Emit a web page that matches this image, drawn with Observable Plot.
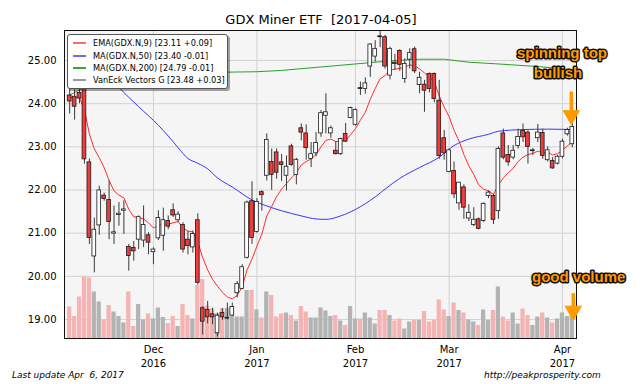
<!DOCTYPE html>
<html><head><meta charset="utf-8">
<script src="https://cdn.jsdelivr.net/npm/d3@7"></script>
<script src="https://cdn.jsdelivr.net/npm/@observablehq/plot@0.6"></script>
<style>
html,body{margin:0;padding:0;background:#fff;}
#wrap{position:relative;width:640px;height:384px;overflow:hidden;font-family:"DejaVu Sans",sans-serif;color:#000;}
#chart{position:absolute;left:0;top:0;}
#title{position:absolute;left:0;top:12px;width:642px;text-align:center;font-size:13px;white-space:pre;line-height:16px;}
#legend{position:absolute;left:67px;top:34px;width:159px;height:53px;background:#fff;border:1px solid #555;border-radius:3px;box-shadow:2px 2px 0 rgba(0,0,0,0.35);}
.lrow{position:absolute;left:0;height:12px;font-size:8.2px;line-height:12px;white-space:pre;}
.lsw{position:absolute;left:5px;top:5px;width:13px;height:2px;}
.ltx{position:absolute;left:25px;top:0;}
#footL{position:absolute;left:12px;top:370px;font-size:9px;font-style:italic;white-space:pre;}
#footR{position:absolute;left:484px;top:370px;font-size:9px;font-style:italic;white-space:pre;}
</style></head><body>
<div id="wrap">
  <div id="chart"></div>
  <div id="title"></div>
  <div id="legend"></div>
  <div id="footL"></div>
  <div id="footR"></div>
</div>
<script>
// ---------- data (trading-day index 0 = 2016-11-07 ... 102 = 2017-04-05) ----------
const opens = [24.19,24.16,24.25,24.38,22.64,20.46,21.18,21.87,21.77,20.99,
 21.42,21.52,20.68,20.66,20.85,20.83,20.95,20.56,20.88,20.94,
 21.28,21.53,21.30,21.19,20.85,20.67,21.30,19.26,19.22,19.12,
 18.68,19.15,19.02,19.09,19.61,19.71,20.43,21.74,21.03,21.95,
 22.33,22.65,22.87,22.64,22.33,23.01,22.35,23.43,23.31,22.72,
 22.85,23.31,23.72,23.31,22.91,22.83,23.30,23.67,23.51,24.36,
 24.34,24.86,25.09,25.56,25.54,24.65,24.95,25.22,24.57,25.02,
 25.26,24.43,24.44,24.69,24.69,24.07,23.20,22.42,22.44,21.69,
 22.06,21.34,21.19,21.32,21.28,21.86,21.86,21.51,23.31,22.81,
 22.75,23.02,23.37,23.33,22.90,23.20,23.32,22.69,22.67,22.61,
 22.77,23.29,23.06];
const highs = [24.40,24.32,24.45,24.46,22.72,21.35,22.09,21.93,22.21,21.63,
 21.71,21.75,20.74,20.81,21.40,21.63,21.01,20.66,21.52,21.58,
 21.40,21.68,21.50,21.24,21.04,21.05,21.45,19.30,19.42,19.26,
 19.15,19.25,19.38,19.38,19.88,20.27,21.74,22.19,21.80,21.98,
 23.30,22.95,22.95,22.82,22.79,23.06,22.73,23.53,23.51,23.10,
 23.33,23.84,24.23,23.48,23.12,23.20,23.54,23.92,23.88,24.50,
 24.60,25.39,25.46,25.68,25.58,25.31,25.14,25.25,25.04,25.27,
 25.31,24.73,24.54,24.71,24.71,24.54,23.38,22.95,22.65,22.17,
 22.12,21.66,21.59,21.35,21.70,21.98,21.90,23.00,23.41,23.03,
 23.03,23.41,23.53,23.37,22.96,23.52,23.41,23.00,22.75,22.80,
 23.18,23.43,23.62];
const lows = [23.76,23.62,24.00,22.60,20.74,20.08,20.95,21.74,20.85,20.74,
 21.16,20.97,20.12,20.35,20.62,20.67,20.50,20.27,20.83,20.58,
 21.08,21.36,21.24,20.54,20.50,20.54,19.80,18.64,18.90,18.88,
 18.60,18.98,18.99,19.07,19.50,19.69,20.40,20.74,21.00,21.51,
 22.21,21.99,22.25,22.20,21.98,22.55,22.12,23.14,22.69,22.52,
 22.77,23.22,23.30,23.20,22.81,22.80,23.10,23.65,23.48,24.19,
 24.22,24.61,24.96,25.30,24.80,24.55,24.77,24.75,24.47,24.80,
 24.70,24.23,23.80,24.25,24.02,22.71,22.69,22.40,21.80,21.53,
 21.32,21.27,21.15,21.08,21.25,21.80,21.20,21.32,22.70,22.55,
 22.70,22.95,23.10,22.60,22.80,23.10,22.71,22.65,22.48,22.58,
 22.72,23.25,22.98];
const closes = [24.05,23.93,24.12,22.71,20.89,21.08,21.99,21.79,21.26,21.02,
 21.45,21.55,20.47,20.58,21.37,21.19,20.78,20.62,21.35,21.30,
 21.15,21.41,21.43,20.62,20.70,20.98,19.85,18.95,19.05,19.05,
 19.09,19.05,19.04,19.29,19.82,20.21,21.71,20.89,21.72,21.88,
 23.16,22.35,22.40,22.58,22.54,22.58,22.70,23.33,22.97,22.83,
 23.09,23.78,23.80,23.43,22.83,23.18,23.12,23.90,23.85,24.34,
 24.47,25.37,25.27,25.54,24.86,25.27,24.92,24.90,24.92,25.17,
 24.75,24.60,24.30,24.34,24.11,22.79,22.85,22.92,21.90,22.17,
 21.59,21.47,21.31,21.10,21.68,21.94,21.31,22.95,22.75,22.64,
 22.91,23.23,23.22,23.00,22.92,23.33,22.79,22.92,22.50,22.77,
 23.12,23.39,23.46];
// volume, millions of shares
const volumes = [63,44,83,123,121,93,73,37,66,53,
 44,31,93,24,68,37,49,39,61,42,
 30,44,24,68,46,39,106,118,65,59,
 49,60,60,54,43,43,96,96,57,41,
 93,86,43,49,51,46,35,64,53,41,
 41,61,55,44,46,35,26,64,39,39,
 51,41,29,56,56,46,35,39,19,33,
 36,36,54,33,36,77,57,44,71,56,
 51,37,33,26,57,36,56,103,43,35,
 51,29,59,46,26,43,51,41,31,39,
 51,44,64];
const ema9 = [24.15,24.13,24.14,23.85,23.30,22.95,22.75,22.52,22.22,21.98,
 21.88,21.82,21.55,21.38,21.36,21.33,21.24,21.12,21.18,21.21,
 21.21,21.24,21.27,21.12,21.05,21.03,20.80,20.43,20.15,19.93,
 19.77,19.63,19.52,19.48,19.56,19.75,20.15,20.40,20.70,20.98,
 21.40,21.62,21.85,22.02,22.15,22.28,22.40,22.58,22.66,22.72,
 22.82,23.00,23.15,23.18,23.12,23.14,23.14,23.28,23.42,23.62,
 23.80,24.10,24.35,24.58,24.65,24.78,24.80,24.82,24.84,24.90,
 24.87,24.81,24.71,24.62,24.50,24.18,23.92,23.70,23.38,23.14,
 22.82,22.56,22.36,22.12,22.02,21.98,21.90,22.12,22.28,22.40,
 22.50,22.66,22.76,22.82,22.85,22.90,22.86,22.88,22.81,22.84,
 22.92,23.02,23.11];
const ma50Idx = [8,10,14,18,20,22,24,26,28,30,33,37,40,43,47,50,52,55,58,62,64,67,71,75,78,81,85,87,92,97,102];
const ma50Val = [24.65,24.38,23.93,23.50,23.25,22.98,22.73,22.62,22.49,22.28,22.07,21.77,21.63,21.52,21.40,21.33,21.32,21.40,21.55,21.84,22.02,22.27,22.52,22.76,23.03,23.18,23.29,23.36,23.40,23.41,23.40];
const ma200Idx = [0,1,2,3,5,32,38,43,47,53,58,65,71,76,81,87,95,102];
const ma200Val = [24.20,24.26,24.32,24.38,24.50,24.73,24.74,24.77,24.81,24.87,24.92,24.99,25.03,25.03,24.96,24.92,24.86,24.79];

const monthTickIdx = [17,38,58,77,100];
const monthTickLabels = ["Dec\n2016","Jan\n2017","Feb\n2017","Mar\n2017","Apr\n2017"];
const priceTicks = [19,20,21,22,23,24,25];

const legendNames = ["EMA(GDX.N,9) [23.11 +0.09]","MA(GDX.N,50) [23.40 -0.01]","MA(GDX.N,200) [24.79 -0.01]","VanEck Vectors G [23.48 +0.03]"];
const legendColors = ["#ff6b6b","#6b6bff","#3aa53a","#9a9a9a"];

const noteTexts = ["spinning top","bullish","good volume"];
const noteIdx = [99.9,99.1,103.3];
const notePrice = [25.17,24.71,19.99];
const arrowIdx = [101.8,102.2];
const arrowFrom = [24.27,19.60];
const arrowTo = [23.80,19.27];

// ---------- build ----------
const yMin = 18.56, yMax = 25.695;
const volPerPriceUnit = 86.3;
const days = opens.map((o,i)=>({i, open:o, high:highs[i], low:lows[i], close:closes[i], vol:volumes[i], up: closes[i] >= o}));
const emaData = ema9.map((v,i)=>({i, v}));
const ma50 = ma50Idx.map((i,k)=>({i, v:ma50Val[k]}));
const ma200 = ma200Idx.map((i,k)=>({i, v:ma200Val[k]}));
const notes = noteTexts.map((t,k)=>({t, i:noteIdx[k], v:notePrice[k]}));
const arrows = arrowIdx.map((i,k)=>({i, from:arrowFrom[k], to:arrowTo[k]}));
const tickLabel = new Map(monthTickIdx.map((d,k)=>[d, monthTickLabels[k]]));
const orange = "#ff9a00";

const chart = Plot.plot({
  width: 640, height: 384,
  marginTop: 30, marginBottom: 46, marginLeft: 64, marginRight: 64,
  style: {fontFamily: "DejaVu Sans, sans-serif", fontSize: "10px", background: "transparent"},
  x: {type: "linear", domain: [-1.05, 102.85], label: null},
  y: {type: "linear", domain: [yMin, yMax], label: null},
  marks: [
    Plot.frame({fill: "#f5f5f5", stroke: null}),
    Plot.gridX(monthTickIdx, {stroke: "#d2d2d2", strokeOpacity: 1, strokeWidth: 1}),
    Plot.gridY(priceTicks, {stroke: "#d2d2d2", strokeOpacity: 1, strokeWidth: 1}),
    Plot.rect(days, {x1: d => d.i - 0.43, x2: d => d.i + 0.43, y1: yMin, y2: d => yMin + d.vol / volPerPriceUnit,
      fill: d => d.up ? "#b3b3b3" : "#f5b3b3"}),
    Plot.line(ma200, {x: "i", y: "v", stroke: "#2e9e2e", strokeWidth: 1}),
    Plot.line(ma50, {x: "i", y: "v", stroke: "#3535ff", strokeWidth: 1, curve: "monotone-x"}),
    Plot.line(emaData, {x: "i", y: "v", stroke: "#ff2d2d", strokeWidth: 1}),
    Plot.ruleX(days, {x: "i", y1: "low", y2: "high", stroke: "#3a3a3a", strokeWidth: 1}),
    Plot.rect(days, {x1: d => d.i - 0.38, x2: d => d.i + 0.38, y1: "open", y2: "close",
      fill: d => d.up ? "#ffffff" : "#f23b3b", stroke: "#1a1a1a", strokeWidth: 0.8}),
    Plot.frame({stroke: "#111", strokeWidth: 1}),
    Plot.axisY(priceTicks, {tickFormat: d => d.toFixed(2), tickSize: 0, tickPadding: 8, fontSize: 10, label: null}),
    Plot.axisX(monthTickIdx, {tickFormat: d => tickLabel.get(d), tickSize: 0, tickPadding: 4, fontSize: 10, lineHeight: 1.45, label: null}),
    Plot.ruleX(arrows, {x: "i", y1: "from", y2: "to", stroke: orange, strokeWidth: 3.5}),
    Plot.dot(arrows, {x: "i", y: "to", symbol: "triangle", r: 6, rotate: 180, fill: orange, stroke: orange, strokeWidth: 1, dy: 3}),
    Plot.text(notes, {x: "i", y: "v", text: "t", fill: orange, stroke: "#111", strokeWidth: 3, paintOrder: "stroke",
      fontSize: 15, fontWeight: "bold", fontFamily: "Liberation Sans, Arial, sans-serif", textAnchor: "middle"})
  ]
});
document.getElementById("chart").appendChild(chart);

document.getElementById("title").textContent = "GDX Miner ETF  [2017-04-05]";
const leg = document.getElementById("legend");
const rowTops = [2, 14.5, 26.5, 39];
legendNames.forEach((n,k)=>{
  const r = document.createElement("div");
  r.className = "lrow"; r.style.top = rowTops[k] + "px"; r.style.width = "159px";
  const s = document.createElement("div"); s.className = "lsw"; s.style.background = legendColors[k];
  const t = document.createElement("div"); t.className = "ltx"; t.textContent = n;
  r.appendChild(s); r.appendChild(t); leg.appendChild(r);
});
document.getElementById("footL").textContent = "Last update Apr  6, 2017";
document.getElementById("footR").textContent = "http://peakprosperity.com";
</script>
</body></html>
